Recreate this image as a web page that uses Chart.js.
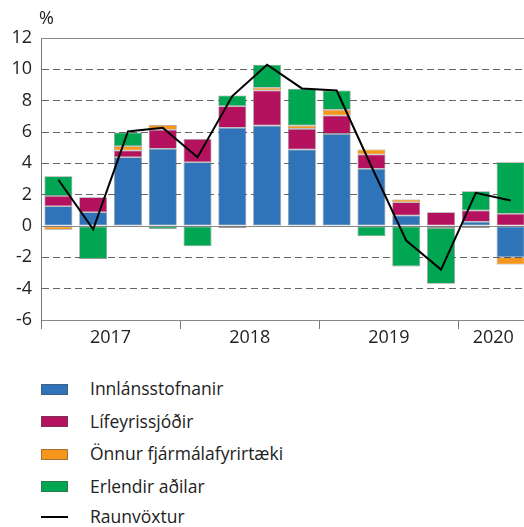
<!DOCTYPE html>
<html>
<head>
<meta charset="utf-8">
<script src="https://cdn.jsdelivr.net/npm/chart.js@4.4.1/dist/chart.umd.min.js"></script>
<style>
  html, body { margin: 0; padding: 0; background: #fff; overflow: hidden; }
  #wrap { position: relative; width: 524px; height: 527px; overflow: hidden; }
  #chart { position: absolute; left: 0; top: 0; }
  #legend { position: absolute; left: 0; top: 0; font-family: "Open Sans", sans-serif; font-size: 17.5px; color: #222; }
  .sw { position: absolute; left: 41px; width: 27px; height: 11px; box-sizing: border-box; border: 1px solid rgba(80,80,80,0.5); }
  .ln { position: absolute; left: 41px; width: 27px; height: 2px; background: #000; }
  .txt { position: absolute; left: 90px; line-height: 24px; white-space: nowrap; }
</style>
</head>
<body>
<div id="wrap">
  <canvas id="chart" width="528" height="350"></canvas>
  <div id="legend"></div>
</div>
<script>
// data
const quarters = ['2017 F1', '2017 F2', '2017 F3', '2017 F4', '2018 F1', '2018 F2', '2018 F3', '2018 F4', '2019 F1', '2019 F2', '2019 F3', '2019 F4', '2020 F1', '2020 F2'];
const years = ['2017', '2018', '2019', '2020'];
const yearStart = [0, 4, 8, 12];
const yearCount = [4, 4, 4, 2];
const yTicks = [-6, -4, -2, 0, 2, 4, 6, 8, 10, 12];

const innlansstofnanir = [1.26, 0.88, 4.39, 4.93, 4.07, 6.27, 6.41, 4.88, 5.88, 3.65, 0.67, null, 0.27, -1.99];
const lifeyrissjodir = [0.66, 0.96, 0.43, 1.21, 1.49, 1.38, 2.24, 1.32, 1.17, 0.91, 0.85, 0.88, 0.72, 0.78];
const onnurFyrirtaeki = [-0.24, null, 0.27, 0.31, null, -0.12, 0.17, 0.21, 0.37, 0.32, 0.17, -0.12, -0.12, -0.47];
const erlendirAdilar = [1.26, -2.1, 0.88, -0.19, -1.29, 0.68, 1.47, 2.35, 1.23, -0.65, -2.58, -3.57, 1.23, 3.29];
const raunvoxtur = [2.95, -0.22, 6.03, 6.27, 4.39, 8.29, 10.29, 8.78, 8.65, 3.8, -0.93, -2.78, 2.12, 1.63];

const fontFamily = '"Open Sans", sans-serif';
const fontSize = 18;
const textColor = '#222';

let series = [
    {label: 'Innlánsstofnanir', data: innlansstofnanir, color: '#2f74b9'},
    {label: 'Lífeyrissjóðir', data: lifeyrissjodir, color: '#b4125e'},
    {label: 'Önnur fjármálafyrirtæki', data: onnurFyrirtaeki, color: '#f7961d'},
    {label: 'Erlendir aðilar', data: erlendirAdilar, color: '#00a651'}
];

// year label sits in the middle of its group
let yearLabelAt = {};
for(let i = 0; i < years.length; i++){
    yearLabelAt[yearStart[i] + Math.floor((yearCount[i] - 1) / 2)] = years[i];
}

let datasets = series.map(s => ({
    label: s.label,
    data: s.data,
    backgroundColor: s.color,
    borderColor: 'rgba(70,70,70,0.55)',
    borderWidth: 0.8,
    borderSkipped: false,
    barPercentage: 0.805,
    categoryPercentage: 1
}));
datasets.push({
    type: 'line',
    label: 'Raunvöxtur',
    data: raunvoxtur,
    borderColor: '#000',
    borderWidth: 2,
    pointRadius: 0,
    tension: 0,
    order: -1,
    stack: 'line'
});

// solid zero line, top frame line and the % unit
const extras = {
    id: 'extras',
    beforeDatasetsDraw(chart){
        let ctx = chart.ctx;
        let area = chart.chartArea;
        let y0 = Math.round(chart.scales.y.getPixelForValue(0)) + 0.5;
        let yt = Math.round(area.top) + 0.5;
        ctx.save();
        ctx.strokeStyle = '#8a8a8a';
        ctx.lineWidth = 1;
        ctx.beginPath();
        ctx.moveTo(area.left, y0);
        ctx.lineTo(area.right, y0);
        ctx.moveTo(area.left, yt);
        ctx.lineTo(area.right, yt);
        ctx.stroke();
        ctx.restore();
    },
    afterDraw(chart){
        let ctx = chart.ctx;
        ctx.save();
        ctx.font = fontSize + 'px ' + fontFamily;
        ctx.fillStyle = textColor;
        ctx.textAlign = 'left';
        ctx.textBaseline = 'middle';
        ctx.fillText('%', 39, 19);
        ctx.restore();
    }
};

new Chart(document.getElementById('chart'), {
    type: 'bar',
    data: {labels: quarters, datasets: datasets},
    options: {
        responsive: false,
        animation: false,
        layout: {padding: {top: 38, left: 0, right: 0, bottom: 0}},
        plugins: {legend: {display: false}, tooltip: {enabled: false}},
        scales: {
            x: {
                stacked: true,
                grid: {
                    offset: true,
                    drawOnChartArea: false,
                    drawTicks: true,
                    tickLength: 9,
                    tickColor: c => yearStart.includes(c.index) ? '#777' : 'rgba(0,0,0,0)'
                },
                border: {display: true, color: '#888'},
                ticks: {
                    autoSkip: false,
                    maxRotation: 0,
                    minRotation: 0,
                    labelOffset: 17.4,
                    padding: -2,
                    color: textColor,
                    font: {family: fontFamily, size: fontSize},
                    callback: (v, i) => yearLabelAt[i] || ''
                },
                afterFit: s => { s.height = 30; }
            },
            y: {
                stacked: true,
                min: -6,
                max: 12,
                afterBuildTicks: s => { s.ticks = yTicks.map(v => ({value: v})); },
                ticks: {
                    padding: 9,
                    color: textColor,
                    font: {family: fontFamily, size: fontSize}
                },
                grid: {
                    drawTicks: false,
                    color: c => (c.tick && [0, 12, -6].includes(c.tick.value)) ? 'rgba(0,0,0,0)' : '#666'
                },
                border: {display: true, color: '#777', dash: [7, 4]},
                afterFit: s => { s.width = 41; }
            }
        }
    },
    plugins: [extras]
});

// legend below the chart
let legend = document.getElementById('legend');
let rowCenters = [389, 421.5, 454, 486.5, 517];
let legendItems = series.map(s => ({label: s.label, color: s.color}));
legendItems.push({label: 'Raunvöxtur', line: true});
legendItems.forEach((item, i) => {
    let c = rowCenters[i];
    let mark = document.createElement('div');
    if(item.line){
        mark.className = 'ln';
        mark.style.top = (c - 1) + 'px';
    }
    else{
        mark.className = 'sw';
        mark.style.top = (c - 5.5) + 'px';
        mark.style.background = item.color;
    }
    let txt = document.createElement('div');
    txt.className = 'txt';
    txt.style.top = (c - 13) + 'px';
    txt.innerText = item.label;
    legend.appendChild(mark);
    legend.appendChild(txt);
});
</script>
</body>
</html>
